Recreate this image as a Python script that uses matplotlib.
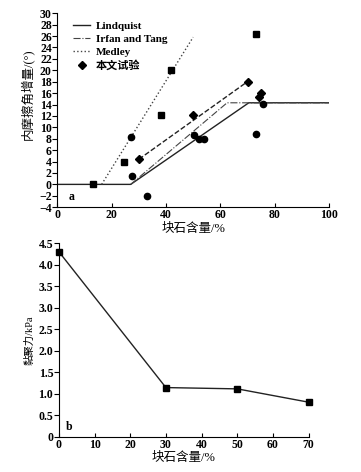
import matplotlib
matplotlib.use('Agg')
import matplotlib.pyplot as plt

plt.rcParams['font.family'] = ['Liberation Serif', 'Noto Sans CJK SC']
plt.rcParams['font.weight'] = 'bold'
plt.rcParams['axes.unicode_minus'] = True

# panel a: model lines
lindquist_x = [0, 27, 70.5, 100]
lindquist_y = [0, 0, 14.3, 14.3]
irfan_x = [27, 62.5, 100]
irfan_y = [0, 14.3, 14.3]
medley_x = [16.3, 50]
medley_y = [0, 25.8]
fit_x = [30, 70]
fit_y = [4.4, 18.0]

# panel a: test points
sq_x = [13.0, 24.7, 38.0, 41.8, 73.0]
sq_y = [0.0, 3.9, 12.2, 20.0, 26.3]
dia_x = [30.2, 50.1, 70.3, 74.4, 75.0]
dia_y = [4.5, 12.2, 18.0, 15.4, 16.1]
cir_x = [27.0, 27.4, 33.1, 50.4, 52.3, 54.0, 73.0, 75.8]
cir_y = [8.3, 1.5, -2.0, 8.7, 8.0, 8.0, 8.8, 14.1]

# panel b: cohesion
rock = [0, 30, 50, 70]
cohesion = [4.3, 1.14, 1.11, 0.80]

fs = 8.5

fig = plt.figure(figsize=(3.61, 4.72), dpi=100)
ax1 = fig.add_axes([0.159, 0.561, 0.752, 0.411])
ax2 = fig.add_axes([0.163, 0.075, 0.692, 0.410])

for ax in (ax1, ax2):
    ax.spines['top'].set_visible(False)
    ax.spines['right'].set_visible(False)
    ax.tick_params(axis='x', direction='in', length=3, width=0.8, labelsize=fs, pad=1.5)
    ax.tick_params(axis='y', direction='out', length=3.5, width=0.8, labelsize=fs, pad=0.5)

ax1.plot(lindquist_x, lindquist_y, '-', color='#222222', lw=1.0, label='Lindquist')
ax1.plot(irfan_x, irfan_y, '-.', color='#444444', lw=0.8, label='Irfan and Tang')
ax1.plot(medley_x, medley_y, ':', color='#444444', lw=1.0, label='Medley')
ax1.plot(fit_x, fit_y, '--', color='#222222', lw=1.0)
ax1.plot(sq_x, sq_y, 's', color='black', ms=4, ls='none')
ax1.plot(dia_x, dia_y, 'D', color='black', ms=4, ls='none', label='本文试验')
ax1.plot(cir_x, cir_y, 'o', color='black', ms=4.5, ls='none')

ax1.set_xlim(0, 100)
ax1.set_ylim(-4, 30)
ax1.set_xticks(range(0, 101, 20))
ax1.set_yticks(range(-4, 31, 2))
ax1.set_xlabel('块石含量/%', fontsize=fs + 0.5, labelpad=1)
ax1.set_ylabel('内摩擦角增量/(°)', fontsize=fs + 0.5, labelpad=1)
ax1.yaxis.set_label_coords(-0.085, 0.58)
ax1.text(4, -2.8, 'a', fontsize=fs)
ax1.legend(loc='upper left', bbox_to_anchor=(0.03, 1.0), frameon=False,
           fontsize=8, handlelength=1.5, handletextpad=0.5,
           labelspacing=0.3, borderaxespad=0.3)

ax2.plot(rock, cohesion, '-s', color='#222222', lw=1.0, ms=4,
         mfc='black', mec='black', clip_on=False)
ax2.set_xlim(0, 70)
ax2.set_ylim(0, 4.5)
ax2.set_xticks(range(0, 71, 10))
ax2.set_yticks([0, 0.5, 1.0, 1.5, 2.0, 2.5, 3.0, 3.5, 4.0, 4.5])
ax2.set_yticklabels(['0', '0.5', '1.0', '1.5', '2.0', '2.5', '3.0', '3.5', '4.0', '4.5'])
ax2.set_xlabel('块石含量/%', fontsize=fs + 0.5, labelpad=1)
ax2.set_ylabel('黏聚力/kPa', fontsize=7.5, labelpad=3)
ax2.text(2, 0.15, 'b', fontsize=fs)

fig.savefig('out.png', dpi=100)
